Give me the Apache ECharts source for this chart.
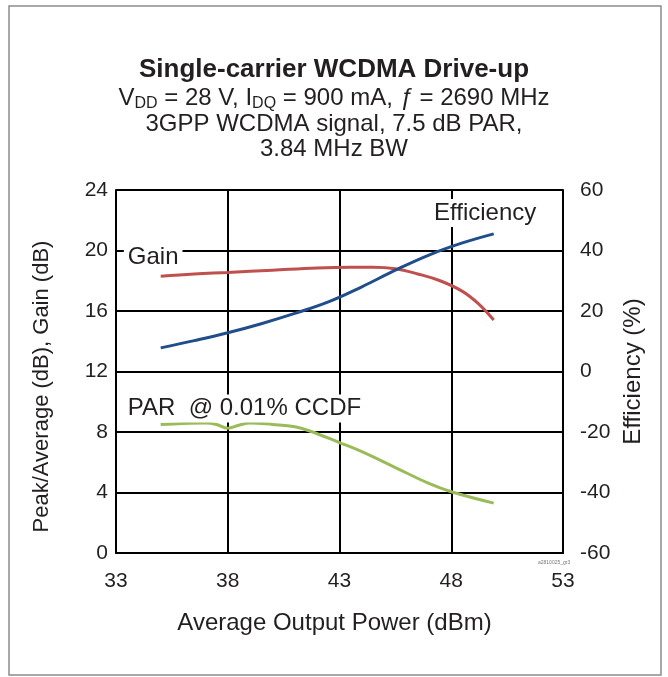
<!DOCTYPE html>
<html>
<head>
<meta charset="utf-8">
<script src="https://cdn.jsdelivr.net/npm/echarts@6/dist/echarts.min.js"></script>
<style>
  html, body { margin: 0; padding: 0; background: #fff; }
  #graph { width: 668px; height: 677px; }
</style>
</head>
<body>
<div id="graph"></div>
<script>
// Average output power (dBm) for each curve
var gainX = [35, 36.5, 38, 40, 42, 43.5, 44.5, 45.5, 46.5, 47.5, 48.5, 49.2, 49.9];
var gainY = [18.3, 18.45, 18.55, 18.7, 18.85, 18.9, 18.9, 18.8, 18.45, 18.0, 17.3, 16.5, 15.4];

var effX = [35, 36.5, 38, 39.5, 41, 42.5, 44, 45.5, 47, 48.5, 49.9];
var effY = [7.8, 10.2, 12.8, 15.8, 19.2, 23, 28, 33.5, 38.5, 42.5, 45.5];

var parX = [35, 36, 37, 37.5, 38, 38.5, 39, 40, 41, 41.7, 43, 44, 45.5, 47, 48, 49.9];
var parY = [8.5, 8.57, 8.6, 8.5, 8.25, 8.45, 8.6, 8.5, 8.35, 8.05, 7.3, 6.7, 5.65, 4.6, 4.05, 3.3];

var xTicks = [33, 38, 43, 48, 53];
var leftTicks = [0, 4, 8, 12, 16, 20, 24];
var rightTicks = [-60, -40, -20, 0, 20, 40, 60];

function pairs(xs, ys) {
    return xs.map(function(x, i) { return [x, ys[i]]; });
}

var font = 'Liberation Sans, Arial, sans-serif';
var ink = '#231f20';

var chart = echarts.init(document.getElementById('graph'));

function line(text, top) {
    return {
        text: text, left: 'center', top: top,
        textStyle: {fontSize: 24, fontWeight: 'normal', color: ink, fontFamily: font}
    };
}

var option = {
    animation: false,
    textStyle: {fontFamily: font, color: ink},
    title: [{
        text: 'Single-carrier WCDMA Drive-up',
        left: 'center', top: 52,
        textStyle: {fontSize: 26, fontWeight: 'bold', color: ink, fontFamily: font}
    }, {
        text: '{n|V}{s|DD}{n| = 28 V, I}{s|DQ}{n| = 900 mA, }{i|ƒ}{n| = 2690 MHz}',
        left: 'center', top: 80,
        textStyle: {
            rich: {
                n: {fontSize: 24, color: ink, fontFamily: font, fontWeight: 'normal'},
                s: {fontSize: 16, color: ink, fontFamily: font, fontWeight: 'normal', padding: [11, 0, 0, 0]},
                i: {fontSize: 24, color: ink, fontFamily: font, fontWeight: 'normal', fontStyle: 'italic'}
            }
        }
    },
    line('3GPP WCDMA signal, 7.5 dB PAR,', 107),
    line('3.84 MHz BW', 132)],
    grid: {left: 116, right: 105, top: 190, bottom: 124},
    xAxis: {
        type: 'value', min: xTicks[0], max: xTicks[xTicks.length - 1], interval: 5,
        name: 'Average Output Power (dBm)', nameLocation: 'middle', nameGap: 58,
        nameTextStyle: {fontSize: 24, color: ink, padding: [0, 10, 0, 0]},
        axisLine: {lineStyle: {color: '#000', width: 2}},
        axisTick: {show: false},
        axisLabel: {fontSize: 21, color: ink, margin: 18},
        splitLine: {lineStyle: {color: '#000', width: 2}}
    },
    yAxis: [{
        type: 'value', min: leftTicks[0], max: leftTicks[leftTicks.length - 1], interval: 4,
        name: 'Peak/Average (dB), Gain (dB)', nameLocation: 'middle', nameGap: 63,
        nameTextStyle: {fontSize: 22, color: ink, padding: [0, 0, 0, -30]},
        axisLine: {show: true, lineStyle: {color: '#000', width: 2}},
        axisTick: {show: false},
        axisLabel: {fontSize: 21, color: ink, margin: 8},
        splitLine: {lineStyle: {color: '#000', width: 2}}
    }, {
        type: 'value', min: rightTicks[0], max: rightTicks[rightTicks.length - 1], interval: 20,
        name: 'Efficiency (%)', nameLocation: 'middle', nameGap: 57,
        nameTextStyle: {fontSize: 24, color: ink},
        axisLine: {show: true, lineStyle: {color: '#000', width: 2}},
        axisTick: {show: false},
        axisLabel: {fontSize: 21, color: ink, margin: 17},
        splitLine: {show: false}
    }],
    series: [{
        name: 'Gain', type: 'line', smooth: 0.4, showSymbol: false,
        data: pairs(gainX, gainY),
        lineStyle: {color: '#c0504d', width: 3}
    }, {
        name: 'Efficiency', type: 'line', smooth: 0.4, showSymbol: false, yAxisIndex: 1,
        data: pairs(effX, effY),
        lineStyle: {color: '#1f4e8a', width: 3}
    }, {
        name: 'PAR', type: 'line', smooth: 0.4, showSymbol: false,
        data: pairs(parX, parY),
        lineStyle: {color: '#9bbb59', width: 3}
    }]
};

chart.setOption(option);

// curve labels placed in data space, white box hides the grid behind them
function note(text, x, y, axis) {
    var p = chart.convertToPixel(axis === 1 ? {xAxisIndex: 0, yAxisIndex: 1} : {xAxisIndex: 0, yAxisIndex: 0}, [x, y]);
    return {
        type: 'text', x: p[0], y: p[1], z: 10,
        style: {
            text: text, fontSize: 24, fontFamily: font, fill: ink,
            verticalAlign: 'middle', backgroundColor: '#fff', padding: [2, 4, 2, 4]
        }
    };
}

chart.setOption({
    graphic: [
        {
            type: 'rect', z: -1, silent: true,
            shape: {x: 9, y: 6, width: 652, height: 669},
            style: {fill: 'none', stroke: '#8c8c8c', lineWidth: 1.5}
        },
        note('Gain', 33.35, 19.55, 0),
        note('Efficiency', 47.05, 52.4, 1),
        note('PAR  @ 0.01% CCDF', 33.35, 9.55, 0),
        {
            type: 'text', x: 538, y: 560, z: 10,
            style: {text: 'a2810025_gr3', fontSize: 5, fill: '#777', fontFamily: font}
        }
    ]
});
</script>
</body>
</html>
